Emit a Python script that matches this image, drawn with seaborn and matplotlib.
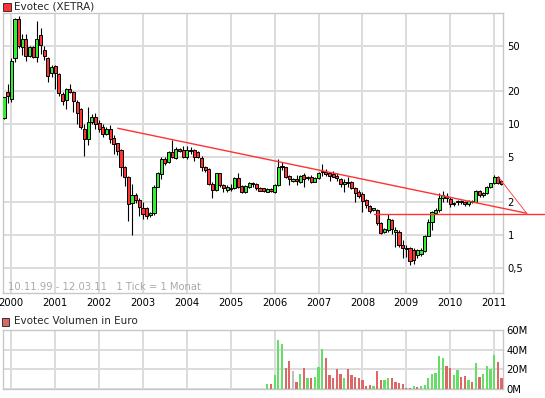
import numpy as np
import pandas as pd
import matplotlib
matplotlib.use("Agg")
import matplotlib.pyplot as plt
from matplotlib.patches import Rectangle
import seaborn as sns

# ---------------- data ----------------
# monthly candles, index 0 = Nov 1999 ... 136 = Mar 2011
opens = [11.3, 19.3, 16.7, 39.0, 89.0, 49.0, 58.0, 41.0, 49.0, 40.0,
         63.0, 46.0, 39.0, 28.6, 33.0, 28.0, 18.6, 16.5, 20.7, 19.3,
         15.9, 13.7, 9.0, 7.3, 10.5, 11.6, 10.2, 9.45, 8.1, 9.0,
         7.5, 6.7, 5.8, 4.1, 3.3, 1.93, 2.29, 2.07, 1.74, 1.74,
         1.51, 1.57, 2.72, 3.55, 4.81, 4.58, 5.63, 4.91, 6.0, 5.83,
         5.0, 5.75, 5.83, 5.6, 4.9, 4.07, 3.9, 2.9, 2.55, 3.6,
         2.8, 2.55, 2.65, 2.67, 3.24, 2.76, 2.46, 2.72, 2.92, 2.88,
         2.67, 2.63, 2.46, 2.6, 2.46, 2.82, 4.18, 4.07, 3.40, 3.08,
         3.18, 3.02, 3.47, 3.24, 3.35, 3.02, 3.24, 3.74, 3.72, 3.59,
         3.52, 3.40, 3.18, 2.86, 3.02, 3.02, 2.63, 2.46, 2.32, 2.07,
         1.83, 1.68, 1.68, 1.29, 1.07, 1.11, 1.36, 1.07, 1.07, 0.82,
         0.76, 0.76, 0.74, 0.66, 0.68, 0.72, 0.98, 1.32, 1.59, 1.68,
         2.14, 2.25, 2.09, 1.90, 1.97, 1.97, 1.99, 1.89, 2.04, 1.99,
         2.49, 2.29, 2.37, 2.72, 2.92, 3.35, 3.08]
highs = [17.6, 22.9, 39.0, 91.0, 93.0, 65.0, 65.0, 50.0, 50.0, 85.0,
         73.0, 50.0, 40.0, 34.0, 34.0, 29.0, 19.3, 21.0, 22.9, 20.0,
         16.5, 13.8, 10.1, 14.3, 12.4, 12.5, 10.9, 9.9, 9.3, 9.8,
         8.0, 6.8, 5.9, 4.15, 3.4, 2.9, 2.4, 2.14, 2.0, 1.8,
         1.6, 2.8, 3.72, 5.08, 5.08, 5.75, 7.2, 6.2, 6.1, 6.3,
         6.3, 6.2, 6.0, 5.7, 5.2, 4.2, 4.0, 3.0, 3.65, 3.65,
         2.9, 2.8, 2.9, 3.3, 3.64, 2.8, 2.8, 3.02, 2.98, 2.92,
         2.72, 2.67, 2.65, 2.63, 2.86, 4.81, 4.58, 4.13, 3.47, 3.24,
         3.47, 3.47, 3.59, 3.4, 3.47, 3.3, 3.72, 4.36, 3.91, 3.72,
         3.77, 3.59, 3.28, 3.18, 3.35, 3.08, 2.69, 2.54, 2.46, 2.09,
         1.86, 1.76, 1.71, 1.32, 1.15, 1.54, 1.40, 1.19, 1.11, 0.90,
         0.82, 0.78, 0.76, 0.75, 0.76, 1.0, 1.39, 1.65, 1.74, 2.37,
         2.49, 2.41, 2.21, 1.99, 2.07, 2.07, 2.04, 2.07, 2.07, 2.54,
         2.54, 2.46, 2.76, 2.96, 3.47, 3.43, 3.13]
lows = [11.0, 15.4, 15.9, 36.4, 48.0, 42.0, 37.0, 40.0, 39.0, 36.0,
        43.0, 37.6, 24.0, 26.5, 20.7, 18.0, 14.8, 13.6, 19.0, 12.9,
        10.1, 9.0, 5.1, 6.5, 10.1, 9.0, 8.5, 7.6, 7.9, 6.8,
        5.4, 5.3, 3.4, 2.75, 1.35, 0.99, 1.95, 1.47, 1.38, 1.38,
        1.45, 1.53, 2.7, 3.18, 4.27, 4.43, 4.9, 4.8, 5.6, 4.9,
        4.8, 5.4, 4.6, 4.9, 3.8, 3.7, 2.85, 2.14, 2.5, 2.7,
        2.45, 2.45, 2.5, 2.6, 2.67, 2.41, 2.4, 2.67, 2.72, 2.54,
        2.49, 2.46, 2.43, 2.45, 2.37, 2.76, 3.85, 3.24, 2.82, 3.0,
        2.82, 2.92, 2.72, 3.15, 2.96, 2.98, 3.18, 3.40, 3.40, 3.08,
        3.31, 3.08, 2.72, 2.46, 2.72, 2.58, 1.99, 2.14, 1.62, 1.74,
        1.57, 1.64, 1.23, 1.02, 1.05, 1.07, 1.02, 0.78, 0.78, 0.62,
        0.64, 0.54, 0.55, 0.62, 0.65, 0.70, 0.97, 1.12, 1.54, 1.62,
        1.97, 1.97, 1.80, 1.84, 1.86, 1.89, 1.84, 1.84, 1.95, 1.97,
        2.21, 2.21, 2.32, 2.63, 2.86, 2.88, 2.80]
closes = [17.4, 17.9, 36.9, 89.0, 50.0, 58.0, 41.0, 49.0, 40.0, 58.0,
          52.0, 41.0, 27.0, 32.8, 29.0, 19.0, 16.2, 20.8, 19.5, 16.2,
          12.5, 9.3, 7.4, 10.5, 11.5, 10.0, 9.0, 8.1, 9.0, 7.4,
          6.6, 5.75, 4.1, 3.3, 1.9, 2.29, 2.07, 1.80, 1.55, 1.49,
          1.57, 2.72, 3.59, 4.81, 4.43, 5.63, 5.08, 6.0, 5.75, 5.08,
          5.83, 5.83, 5.0, 5.08, 4.1, 3.85, 2.9, 2.55, 3.6, 2.8,
          2.65, 2.7, 2.6, 3.24, 2.72, 2.46, 2.76, 2.92, 2.88, 2.63,
          2.51, 2.51, 2.6, 2.49, 2.82, 4.07, 4.07, 3.35, 3.18, 3.18,
          3.08, 3.40, 3.18, 3.35, 3.02, 3.24, 3.64, 3.70, 3.52, 3.40,
          3.35, 3.28, 2.88, 3.02, 2.96, 2.63, 2.41, 2.26, 2.04, 1.86,
          1.65, 1.74, 1.27, 1.05, 1.13, 1.39, 1.13, 1.11, 0.81, 0.76,
          0.75, 0.58, 0.60, 0.73, 0.74, 0.98, 1.32, 1.62, 1.68, 2.14,
          2.29, 2.14, 1.90, 1.95, 2.02, 2.02, 1.89, 2.02, 1.99, 2.49,
          2.29, 2.41, 2.72, 2.92, 3.35, 2.96, 2.88]

# monthly volume in million euro, Nov 2005 (index 72) ... Mar 2011 (index 136)
vol_start = 72
volumes = [5.3, 5.3, 14, 50, 46, 21, 28, 18, 7.3, 15,
           21, 11, 10.7, 12.7, 22, 41, 32, 14.7, 11.3, 20.7,
           15.3, 11.3, 20.7, 14, 12.7, 11.3, 8.7, 3.3, 4, 3.3,
           18.7, 8.7, 9.3, 11.3, 10.7, 7.3, 6, 4.7, 1.3, 1.3,
           3.3, 2, 3.3, 4, 10.7, 15.3, 16.7, 33.3, 31.3, 23.3,
           21.3, 14.7, 19.3, 12.7, 13.3, 9.3, 6.7, 26.7, 12.7, 15.3,
           23.3, 20.7, 34.7, 27.3, 11.3]
vol_dir = list("grgggrrxrgrgrgggrrrrrgrrrrrrrgrrggrrrrrrgrgggggggrrggrrgrgrggggrr")

# trend lines drawn on the chart (month index, price)
trend1_m = [31.1, 142.9]
trend1_p = [9.15, 1.57]
trend2_m = [101.2, 147.9]
trend2_p = [1.55, 1.55]
trend3_m = [135.1, 142.9]
trend3_p = [3.35, 1.57]

years = list(range(2000, 2012))
year_months = [2 + 12 * k for k in range(len(years))]
price_ticks = [0.5, 1, 2, 5, 10, 20, 50]
price_labels = ["0,5", "1", "2", "5", "10", "20", "50"]
vol_ticks = [0, 20, 40, 60]
vol_labels = ["0M", "20M", "40M", "60M"]

# ---------------- style ----------------
sns.set_style("white")
plt.rcParams["font.family"] = ["DejaVu Sans"]

W, H = 545, 398
fig = plt.figure(figsize=(W / 100, H / 100), dpi=100)
fig.patch.set_facecolor("white")

def fx(px):
    return px / W

def fy(py):
    return 1 - py / H

GRID = "#dcdcdc"
SPINE = "#c8c8c8"
GREEN = "#33ee33"
RED = "#ff3333"

ax = fig.add_axes([fx(3), fy(293.3), fx(503.3) - fx(3), fy(12.7) - fy(293.3)])
axv = fig.add_axes([fx(3), fy(389), fx(503.3) - fx(3), fy(330) - fy(389)])

# ---------------- candles ----------------
df = pd.DataFrame({"o": opens, "h": highs, "l": lows, "c": closes})
df["m"] = np.arange(len(df))
df["up"] = df["c"] >= df["o"]
ax.vlines(df["m"], df["l"], df["h"], color="black", lw=0.8, zorder=3)
body_lo = np.minimum(df["o"], df["c"])
body_hi = np.maximum(df["o"], df["c"])
ax.bar(df["m"], body_hi - body_lo, bottom=body_lo, width=0.85,
       color=np.where(df["up"], GREEN, RED), edgecolor="black",
       linewidth=0.7, zorder=4)

ax.set_yscale("log")
ax.set_ylim(0.2985, 100.6)
ax.set_xlim(-0.27, 136.5)
ax.set_yticks(price_ticks)
ax.set_yticklabels(price_labels)
ax.yaxis.set_minor_locator(matplotlib.ticker.NullLocator())
ax.yaxis.tick_right()
ax.set_xticks(year_months)
ax.set_xticklabels([str(y) for y in years])
ax.tick_params(axis="both", length=0, labelsize=7.2, colors="black")
ax.tick_params(axis="y", pad=3)
ax.tick_params(axis="x", pad=3.5)
ax.grid(True, color=GRID, lw=1.4, zorder=0)
ax.set_axisbelow(True)
for s in ax.spines.values():
    s.set_color(SPINE)
    s.set_linewidth(1)

ax.plot(trend1_m, trend1_p, color=RED, lw=1.0, clip_on=False, zorder=5)
ax.plot(trend2_m, trend2_p, color=RED, lw=1.0, clip_on=False, zorder=5)
ax.plot(trend3_m, trend3_p, color=RED, lw=0.6, clip_on=False, zorder=5)

ax.text(fx(8.3), fy(286.7), "10.11.99 - 12.03.11   1 Tick = 1 Monat",
        transform=fig.transFigure, color="#aaaaaa", fontsize=7.2,
        va="center", ha="left")

# ---------------- volume ----------------
vdf = pd.DataFrame({"m": np.arange(vol_start, vol_start + len(volumes)),
                    "vol": volumes, "dir": vol_dir})
sns.barplot(data=vdf, x="m", y="vol", hue="dir", native_scale=True,
            dodge=False, saturation=1, legend=False,
            palette={"g": "#66dd66", "r": "#dd6666", "x": "#c0c0c0"},
            ax=axv, zorder=3)
bar_w = 0.62
for p in axv.patches:
    cx = p.get_x() + p.get_width() / 2
    p.set_width(bar_w)
    p.set_x(cx - bar_w / 2)
    p.set_linewidth(0)
axv.set_xlim(-0.27, 136.5)
axv.set_ylim(0, 60)
axv.set_xlabel("")
axv.set_ylabel("")
axv.set_xticks(year_months)
axv.set_xticklabels([])
axv.set_yticks(vol_ticks)
axv.set_yticklabels(vol_labels)
axv.yaxis.tick_right()
axv.tick_params(axis="both", length=0, labelsize=7.2, colors="black")
axv.tick_params(axis="y", pad=2)
axv.grid(True, color=GRID, lw=1.4, zorder=0)
axv.set_axisbelow(True)
for s in axv.spines.values():
    s.set_color(SPINE)
    s.set_linewidth(1)

# ---------------- legends / titles ----------------
fig.patches.append(Rectangle((fx(3.3), fy(10.5)), fx(7.7), fy(2.7) - fy(10.5),
                             transform=fig.transFigure, facecolor=RED,
                             edgecolor="#333333", lw=0.7))
fig.text(fx(14), fy(6.6), "Evotec (XETRA)", fontsize=7.5, va="center", ha="left")
fig.patches.append(Rectangle((fx(2), fy(325.5)), fx(6.8), fy(318) - fy(325.5),
                             transform=fig.transFigure, facecolor="#dd6666",
                             edgecolor="#333333", lw=0.7))
fig.text(fx(14.5), fy(321.5), "Evotec Volumen in Euro", fontsize=7.5,
         va="center", ha="left")

fig.savefig("out.png", dpi=100, facecolor="white")
